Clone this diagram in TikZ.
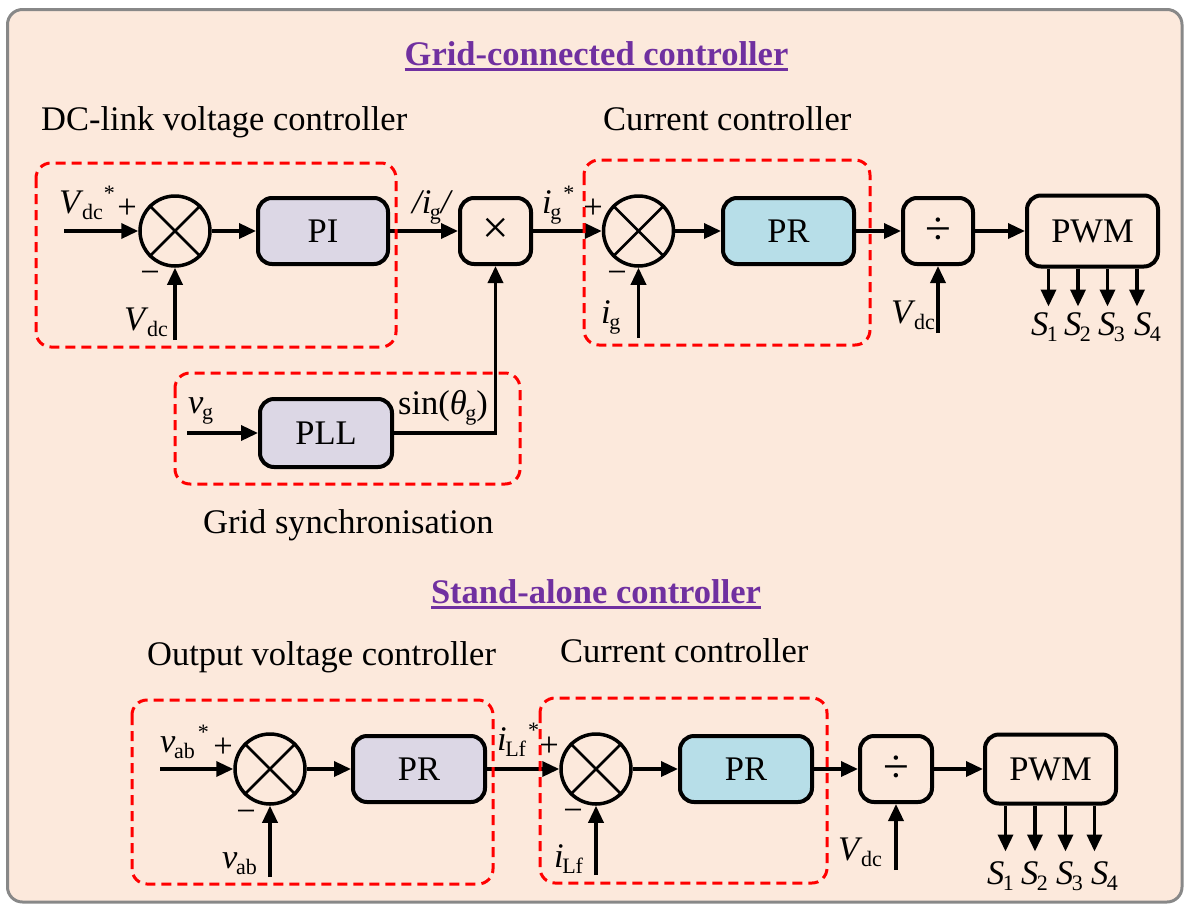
\documentclass[tikz,border=0pt]{standalone}
\usepackage{fontspec}
\setmainfont{Liberation Serif}
\usetikzlibrary{arrows.meta,calc}
\definecolor{bgpeach}{RGB}{252,233,220}
\definecolor{lav}{RGB}{220,215,229}
\definecolor{lblue}{RGB}{183,222,232}
\definecolor{ttlpurple}{RGB}{112,48,160}
\definecolor{framegray}{RGB}{136,136,136}
\newcommand{\sbx}[1]{\kern-1.5pt\raisebox{-6pt}{\fontsize{22}{24}\selectfont #1}}
\newcommand{\stx}{\raisebox{13pt}{\fontsize{22}{24}\selectfont *}}
\newcommand{\bigop}[1]{\fontsize{47}{50}\selectfont #1}
\begin{document}
\begin{tikzpicture}[x=1pt,y=-1pt,
  every node/.style={font=\fontsize{34.5}{40}\selectfont},
  blk/.style={draw, line width=4pt, rounded corners=14pt, minimum width=#1, minimum height=66pt, inner sep=0pt},
  sumc/.style={draw, circle, line width=3.5pt, minimum size=70pt, inner sep=0pt},
  conn/.style={line width=3.5pt, -{Triangle[length=17pt,width=15pt]}},
  dbox/.style={draw=red, line width=3pt, dash pattern=on 10pt off 6pt, rounded corners=15pt},
  lbl/.style={inner sep=0pt, anchor=base west},
  sgn/.style={inner sep=0pt, anchor=base},
  ttl/.style={inner sep=0pt, anchor=base, text=ttlpurple, font=\fontsize{34.5}{40}\selectfont\bfseries},
  xline/.style={line width=2.5pt}
]
\useasboundingbox (0,0) rectangle (1184,903);
\fill[white] (0,0) rectangle (1184,903);
\draw[framegray, line width=3pt, fill=bgpeach, rounded corners=15pt] (7.5,9.5) rectangle (1182,902);

% ---------- titles and headings ----------
\node[ttl] (t1) at (596.5,65) {Grid-connected controller};
\draw[ttlpurple, line width=3pt] ($(t1.base west)+(0,4.5)$) -- ($(t1.base east)+(0,4.5)$);
\node[lbl] (h1) at (41,130) {DC-link voltage controller};
\node[lbl] (h2) at (603,130) {Current controller};
\node[lbl] (h3) at (203,533) {Grid synchronisation};
\node[ttl] (t2) at (596,603) {Stand-alone controller};
\draw[ttlpurple, line width=3pt] ($(t2.base west)+(0,4.5)$) -- ($(t2.base east)+(0,4.5)$);
\node[lbl] (h4) at (147,665) {Output voltage controller};
\node[lbl] (h5) at (560,662) {Current controller};

% ---------- grid-connected: blocks ----------
\node[sumc] (s1) at (175,231) {};
\draw[xline] (s1.north east) -- (s1.south west) (s1.north west) -- (s1.south east);
\node[blk=130pt, fill=lav] (pi) at (323,231) {PI};
\node[blk=71pt, font=\bigop{}] (mult) at (495.5,231) {×};
\node[sumc] (s2) at (638.5,231) {};
\draw[xline] (s2.north east) -- (s2.south west) (s2.north west) -- (s2.south east);
\node[blk=131pt, fill=lblue] (pr1) at (788.5,231) {PR};
\node[blk=70pt, font=\bigop{}] (div1) at (938,231) {÷};
\node[blk=131pt, minimum height=71pt] (pwm1) at (1092.5,231) {PWM};
\node[blk=132pt, minimum height=68pt, fill=lav] (pll) at (326,433) {PLL};

\coordinate (in1) at (64,231);
\coordinate (fb1) at (175,340);
\coordinate (fb2) at (638.5,338);
\coordinate (fb3) at (938,333);
\coordinate (in3) at (187,433);

\draw[conn] (in1) -- (s1);
\draw[conn] (fb1) -- (s1);
\draw[conn] (s1) -- (pi);
\draw[conn] (pi) -- (mult);
\draw[conn] (mult) -- (s2);
\draw[conn] (fb2) -- (s2);
\draw[conn] (s2) -- (pr1);
\draw[conn] (pr1) -- (div1);
\draw[conn] (fb3) -- (div1);
\draw[conn] (div1) -- (pwm1);
\draw[conn] (in3) -- (pll);
\draw[conn] (pll.east) -- (pll.east -| mult.south) -- (mult.south);

\node[lbl] (g1) at (1031,335) {\textit{S}\sbx{1}};
\node[lbl] (g2) at (1064,335) {\textit{S}\sbx{2}};
\node[lbl] (g3) at (1098,335) {\textit{S}\sbx{3}};
\node[lbl] (g4) at (1134,335) {\textit{S}\sbx{4}};
\foreach \k/\dx in {1/-44,2/-14.5,3/15,4/44.5}
  \draw[conn] ([xshift=\dx pt]pwm1.south) -- ++(0,38);

% labels
\node[lbl] (l1) at (59,213) {\textit{V}\sbx{dc}\hspace{1pt}\stx};
\node[sgn] (p1) at (127,218.6) {+};
\node[sgn] (m1) at (150,283.6) {−};
\node[lbl] (l2) at (124,330) {\textit{V}\sbx{dc}};
\node[lbl] (l3) at (412,213) {\textit{/i}\sbx{g}\textit{/}};
\node[lbl] (l4) at (542,213) {\textit{i}\sbx{g}\hspace{2pt}\stx};
\node[sgn] (p2) at (593,218.6) {+};
\node[sgn] (m2) at (617,283.6) {−};
\node[lbl] (l5) at (601,323) {\textit{i}\sbx{g}};
\node[lbl] (l6) at (891,323) {\textit{V}\sbx{dc}};
\node[lbl] (l7) at (188,413) {\textit{v}\sbx{g}};
\node[lbl] (l8) at (398,414) {sin(\textit{θ}\sbx{g})};

% ---------- stand-alone: blocks ----------
\node[sumc] (s3) at (270,769) {};
\draw[xline] (s3.north east) -- (s3.south west) (s3.north west) -- (s3.south east);
\node[blk=132pt, fill=lav] (pr2) at (419,769) {PR};
\node[sumc] (s4) at (596,769) {};
\draw[xline] (s4.north east) -- (s4.south west) (s4.north west) -- (s4.south east);
\node[blk=132pt, fill=lblue] (pr3) at (746,769) {PR};
\node[blk=72pt, font=\bigop{}] (div2) at (896,769) {÷};
\node[blk=131pt, minimum height=69pt] (pwm2) at (1050.5,769) {PWM};

\coordinate (in2) at (160,769);
\coordinate (fb4) at (270,877);
\coordinate (fb5) at (596,875);
\coordinate (fb6) at (896,870);

\draw[conn] (in2) -- (s3);
\draw[conn] (fb4) -- (s3);
\draw[conn] (s3) -- (pr2);
\draw[conn] (pr2) -- (s4);
\draw[conn] (fb5) -- (s4);
\draw[conn] (s4) -- (pr3);
\draw[conn] (pr3) -- (div2);
\draw[conn] (fb6) -- (div2);
\draw[conn] (div2) -- (pwm2);

\node[lbl] (b1) at (987,884) {\textit{S}\sbx{1}};
\node[lbl] (b2) at (1021,884) {\textit{S}\sbx{2}};
\node[lbl] (b3) at (1056,884) {\textit{S}\sbx{3}};
\node[lbl] (b4) at (1091,884) {\textit{S}\sbx{4}};
\foreach \k/\dx in {1/-45,2/-15.5,3/15,4/44}
  \draw[conn] ([xshift=\dx pt]pwm2.south) -- ++(0,46);

\node[lbl] (k1) at (160,752) {\textit{v}\sbx{ab}\hspace{3pt}\stx};
\node[sgn] (p3) at (223,757.6) {+};
\node[sgn] (m3) at (246,822.6) {−};
\node[lbl] (k2) at (222,868) {\textit{v}\sbx{ab}};
\node[lbl] (k3) at (497,750) {\textit{i}\sbx{Lf}\hspace{2pt}\stx};
\node[sgn] (p4) at (549,756.6) {+};
\node[sgn] (m4) at (573,821.6) {−};
\node[lbl] (k4) at (554,867) {\textit{i}\sbx{Lf}};
\node[lbl] (k5) at (838,860) {\textit{V}\sbx{dc}};

% ---------- dashed groups ----------
\draw[dbox] (36,163) rectangle (396,347);
\draw[dbox] (584,160) rectangle (870,345);
\draw[dbox] (175,373) rectangle (520,484);
\draw[dbox] (132,700) rectangle (493,884);
\draw[dbox] (540,698) rectangle (827,883);
\end{tikzpicture}
\end{document}
